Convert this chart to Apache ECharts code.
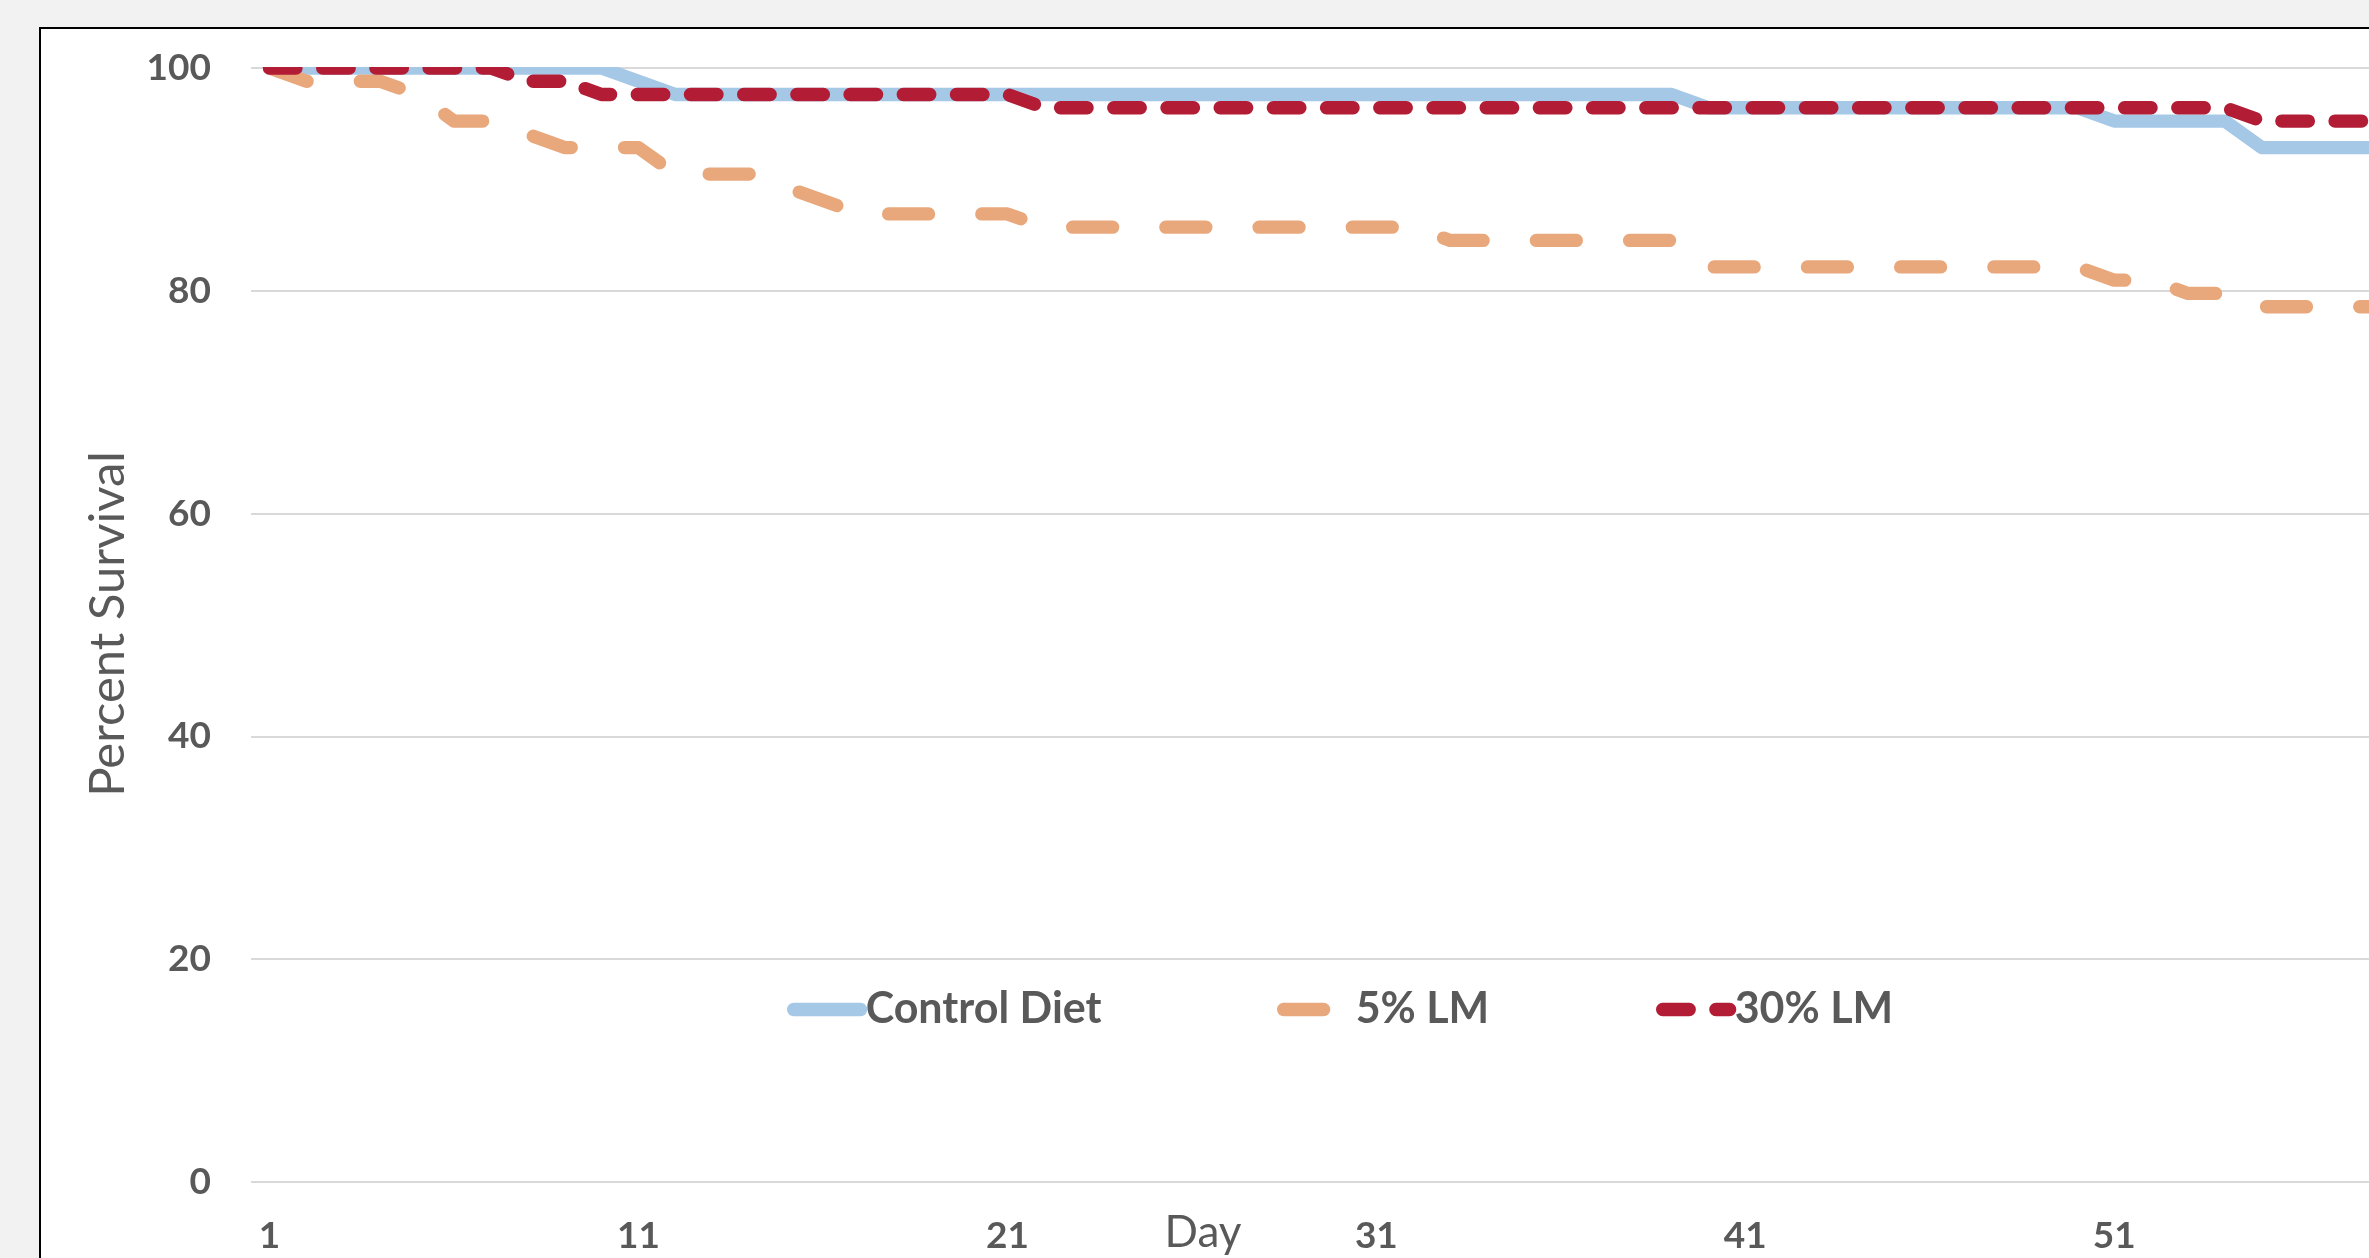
<!DOCTYPE html>
<html>
<head>
<meta charset="utf-8">
<title>Percent Survival</title>
<script src="https://cdn.jsdelivr.net/npm/echarts@6/dist/echarts.min.js"></script>
<style>
    html, body { margin: 0; padding: 0; background: #f2f2f2; }
    #chart { width: 2369px; height: 1258px; }
</style>
</head>
<body>
<div id="chart"></div>
<script>
// days shown on the category axis (the original picture is cut off after day 58)
var days = []
for (var d = 1; d <= 58; d++) days.push(String(d))

var yTicks = [0, 20, 40, 60, 80, 100]

// percent survival per day
var controlDiet = [
    100, 100, 100, 100, 100, 100, 100, 100, 100, 100,               // 1-10
    98.81,                                                          // 11
    97.62, 97.62, 97.62, 97.62, 97.62, 97.62, 97.62, 97.62, 97.62, 97.62,   // 12-21
    97.62, 97.62, 97.62, 97.62, 97.62, 97.62, 97.62, 97.62, 97.62, 97.62,   // 22-31
    97.62, 97.62, 97.62, 97.62, 97.62, 97.62, 97.62, 97.62,                 // 32-39
    96.43, 96.43, 96.43, 96.43, 96.43, 96.43, 96.43, 96.43, 96.43, 96.43, 96.43, // 40-50
    95.24, 95.24, 95.24, 95.24,                                     // 51-54
    92.86, 92.86, 92.86, 92.86                                      // 55-58
]
var lm5 = [
    100,                                                            // 1
    98.81, 98.81, 98.81,                                            // 2-4
    97.62,                                                          // 5
    95.24, 95.24,                                                   // 6-7
    94.05,                                                          // 8
    92.86, 92.86, 92.86,                                            // 9-11
    90.48, 90.48, 90.48,                                            // 12-14
    89.29,                                                          // 15
    88.10,                                                          // 16
    86.90, 86.90, 86.90, 86.90, 86.90,                              // 17-21
    85.71, 85.71, 85.71, 85.71, 85.71, 85.71, 85.71, 85.71, 85.71, 85.71, 85.71, // 22-32
    84.52, 84.52, 84.52, 84.52, 84.52, 84.52, 84.52,                // 33-39
    82.14, 82.14, 82.14, 82.14, 82.14, 82.14, 82.14, 82.14, 82.14, 82.14, 82.14, // 40-50
    80.95, 80.95,                                                   // 51-52
    79.76, 79.76,                                                   // 53-54
    78.57, 78.57, 78.57, 78.57                                      // 55-58
]
var lm30 = [
    100, 100, 100, 100, 100, 100, 100,                              // 1-7
    98.81, 98.81,                                                   // 8-9
    97.62, 97.62, 97.62, 97.62, 97.62, 97.62, 97.62, 97.62, 97.62, 97.62, 97.62, 97.62, // 10-21
    96.43, 96.43, 96.43, 96.43, 96.43, 96.43, 96.43, 96.43, 96.43, 96.43, // 22-31
    96.43, 96.43, 96.43, 96.43, 96.43, 96.43, 96.43, 96.43, 96.43, 96.43, // 32-41
    96.43, 96.43, 96.43, 96.43, 96.43, 96.43, 96.43, 96.43, 96.43, 96.43, // 42-51
    96.43, 96.43, 96.43,                                            // 52-54
    95.24, 95.24, 95.24, 95.24                                      // 55-58
]
var seriesNames = ['Control Diet', '5% LM', '30% LM']

var grey = '#595959'
var font = 'Lato, "Liberation Sans", sans-serif'
var lineW = 13.3
var colors = ['#a5c8e6', '#e8a87c', '#b21c34']
var dashes = ['solid', [40, 53.2], [26.6, 26.6]]

var chart = echarts.init(document.getElementById('chart'))

// one legend per entry so each key sits where Excel put it
var legendLeft = [787, 1277, 1656]
var legends = seriesNames.map((name, i) => ({
    data: [name],
    left: legendLeft[i],
    top: 988,
    padding: 0,
    itemWidth: 67,
    itemHeight: 43,
    selectedMode: false,
    itemStyle: {opacity: 0},
    lineStyle: {width: lineW, cap: 'round', color: colors[i], type: dashes[i]},
    textStyle: {color: grey, fontSize: 43, fontWeight: 'bold', fontFamily: font}
}))

chart.setOption({
    animation: false,
    backgroundColor: '#f2f2f2',
    // plot runs past the right edge, the picture is cropped there
    grid: {left: 251, top: 68, bottom: 76, right: -22, outerBoundsMode: 'none'},
    xAxis: {
        type: 'category',
        data: days,
        boundaryGap: true,
        axisLine: {show: false},
        axisTick: {show: false},
        splitLine: {show: false},
        axisLabel: {interval: 9, margin: 36, color: grey, fontSize: 37, fontWeight: 'bold', fontFamily: font}
    },
    yAxis: {
        type: 'value',
        min: yTicks[0],
        max: yTicks[yTicks.length - 1],
        interval: yTicks[1] - yTicks[0],
        axisLine: {show: false},
        axisTick: {show: false},
        axisLabel: {margin: 40, color: grey, fontSize: 37, fontWeight: 'bold', fontFamily: font},
        splitLine: {lineStyle: {color: '#d9d9d9', width: 2}}
    },
    legend: legends,
    series: [controlDiet, lm5, lm30].map((vals, i) => ({
        name: seriesNames[i],
        type: 'line',
        data: vals,
        symbol: 'none',
        emphasis: {disabled: true},
        lineStyle: {width: lineW, color: colors[i], type: dashes[i], cap: 'round', join: 'round'}
    })),
    graphic: [
        // chart area box
        {type: 'rect', z: -1, silent: true, shape: {x: 40, y: 28, width: 2400, height: 1300},
            style: {fill: '#fff', stroke: '#000', lineWidth: 2}},
        // plot area clips the lines at 100 like the original
        {type: 'rect', z: 10, silent: true, shape: {x: 251, y: 29.5, width: 2200, height: 37.5},
            style: {fill: '#fff'}},
        {type: 'text', x: 1203, y: 1233, silent: true,
            style: {text: 'Day', fill: grey, fontSize: 44, fontFamily: font, align: 'center', verticalAlign: 'middle'}},
        {type: 'text', x: 108, y: 624, rotation: Math.PI / 2, silent: true,
            style: {text: 'Percent Survival', fill: grey, fontSize: 49, fontFamily: font, align: 'center', verticalAlign: 'middle'}}
    ]
})
</script>
</body>
</html>
